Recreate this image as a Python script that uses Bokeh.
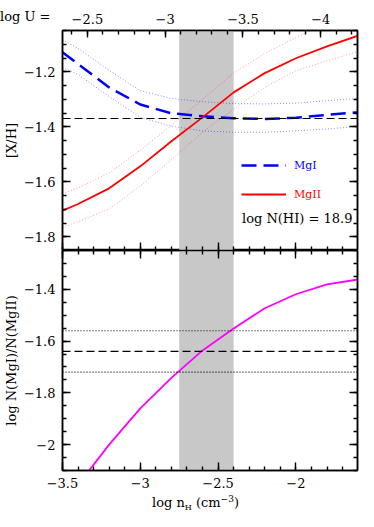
import numpy as np
from bokeh.plotting import figure
from bokeh.models import (Range1d, LinearAxis, SingleIntervalTicker, CustomJSTickFormatter,
                          BoxAnnotation, Span, Label, Legend, LegendItem, Div)
from bokeh.layouts import column
from bokeh.embed import file_html
from bokeh.resources import INLINE

# ---------------- data ----------------
nh_grid = [-3.5, -3.4, -3.2, -3.0, -2.8, -2.6, -2.4, -2.2, -2.0, -1.8, -1.6]
mg1_xh = [-1.129, -1.172, -1.257, -1.319, -1.351, -1.362, -1.369, -1.372, -1.367, -1.357, -1.347]
mg1_xh_hi = [-1.084, -1.115, -1.195, -1.269, -1.297, -1.309, -1.316, -1.317, -1.314, -1.305, -1.297]
mg1_xh_lo = [-1.184, -1.210, -1.290, -1.366, -1.398, -1.415, -1.420, -1.420, -1.415, -1.408, -1.399]
mg2_xh = [-1.705, -1.681, -1.624, -1.544, -1.453, -1.366, -1.275, -1.205, -1.151, -1.108, -1.069]
mg2_xh_hi = [-1.645, -1.622, -1.568, -1.485, -1.395, -1.300, -1.205, -1.134, -1.075, -1.025, -0.985]
mg2_xh_lo = [-1.766, -1.745, -1.699, -1.615, -1.520, -1.420, -1.336, -1.257, -1.196, -1.160, -1.127]

nh_ratio = [-3.4, -3.2, -3.0, -2.8, -2.6, -2.4, -2.2, -2.0, -1.8, -1.6]
ratio = [-2.155, -2.000, -1.860, -1.742, -1.636, -1.551, -1.473, -1.419, -1.381, -1.362]

obs_xh = -1.37
obs_ratio = -1.64
obs_ratio_hi = -1.56
obs_ratio_lo = -1.72
band_lo, band_hi = -2.75, -2.40
logu_offset = -5.84          # log U = logu_offset - log nH
hi_column = 18.9

x_lim = (-3.5, -1.604)
y1_lim = (-1.85, -1.05)
y2_lim = (-2.10, -1.25)

FONT = "DejaVu Serif"

fmt_js = """
const v = Math.round(tick*10)/10;
return (v < 0 ? "\\u2212" : "") + Math.abs(v).toString();
"""


def style_axis(ax, labels, major_in=8, minor_in=4):
    ax.major_tick_in = major_in
    ax.major_tick_out = 0
    ax.minor_tick_in = minor_in
    ax.minor_tick_out = 0
    ax.axis_line_color = "black"
    ax.axis_line_width = 1.5
    ax.major_tick_line_color = "black"
    ax.minor_tick_line_color = "black"
    ax.major_tick_line_width = 1.4
    ax.minor_tick_line_width = 1.4
    ax.axis_label_text_font = FONT
    ax.axis_label_text_font_size = "13px"
    ax.axis_label_text_font_style = "normal"
    ax.axis_label_text_color = "black"
    if labels:
        ax.formatter = CustomJSTickFormatter(code=fmt_js)
        ax.major_label_text_font = FONT
        ax.major_label_text_font_size = "13px"
        ax.major_label_text_color = "black"
        ax.major_label_standoff = 7
    else:
        ax.formatter = CustomJSTickFormatter(code='return "";')
        ax.major_label_text_font_size = "0px"
        ax.major_label_standoff = 0


x_range = Range1d(*x_lim)

# ---------------- top panel ----------------
p1 = figure(frame_width=295, frame_height=220, x_range=x_range, y_range=Range1d(*y1_lim),
            output_backend="svg", toolbar_location=None,
            min_border_left=57, min_border_right=10, min_border_top=30, min_border_bottom=0)
p1.extra_x_ranges = {"logU": Range1d(logu_offset - x_lim[0], logu_offset - x_lim[1])}
p1.grid.visible = False
p1.outline_line_color = "black"
p1.outline_line_width = 1.5

p1.xaxis.ticker = SingleIntervalTicker(interval=0.5, num_minor_ticks=5)
style_axis(p1.xaxis[0], labels=False)
p1.yaxis.ticker = SingleIntervalTicker(interval=0.2, num_minor_ticks=4)
style_axis(p1.yaxis[0], labels=True)
p1.yaxis.axis_label = "[X/H]"
p1.yaxis.axis_label_standoff = 2
r1 = LinearAxis(ticker=SingleIntervalTicker(interval=0.2, num_minor_ticks=4))
style_axis(r1, labels=False)
p1.add_layout(r1, "right")
top = LinearAxis(x_range_name="logU", ticker=SingleIntervalTicker(interval=0.5, num_minor_ticks=5))
style_axis(top, labels=True, major_in=7, minor_in=4)
p1.add_layout(top, "above")

p1.add_layout(BoxAnnotation(left=band_lo, right=band_hi, fill_color="#c8c8c8", fill_alpha=1.0,
                            line_alpha=0, level="underlay"))

p1.line(nh_grid, mg1_xh_hi, line_color="#0000ff", line_alpha=0.45, line_width=1, line_dash="1 2")
p1.line(nh_grid, mg1_xh_lo, line_color="#0000ff", line_alpha=0.45, line_width=1, line_dash="1 2")
p1.line(nh_grid, mg2_xh_hi, line_color="#ff0000", line_alpha=0.4, line_width=1, line_dash="1 2")
p1.line(nh_grid, mg2_xh_lo, line_color="#ff0000", line_alpha=0.4, line_width=1, line_dash="1 2")
p1.add_layout(Span(location=obs_xh, dimension="width", line_color="black", line_width=1.2,
                   line_dash="8 4", level="glyph"))
r_mg1 = p1.line(nh_grid, mg1_xh, line_color="#0000ff", line_width=2.5, line_dash="15 7")
r_mg2 = p1.line(nh_grid, mg2_xh, line_color="#ff0000", line_width=1.8)

for rend, lab, col, yy in [(r_mg1, "MgI", "#0000ff", 78), (r_mg2, "MgII", "#ff0000", 49)]:
    lg = Legend(items=[LegendItem(label=lab, renderers=[rend])], location=(179, yy),
                border_line_color=None, background_fill_alpha=0, padding=0, margin=0,
                glyph_width=45, glyph_height=14, label_height=14, label_standoff=8,
                label_text_font=FONT, label_text_font_size="11px", label_text_color=col)
    p1.add_layout(lg)

p1.add_layout(Label(x=290, y=32, x_units="screen", y_units="screen",
                    text=f"log N(HI) = {hi_column}", text_font=FONT, text_font_size="13px",
                    text_align="right", text_baseline="middle", text_color="black"))

# "log U =" caption sitting on the top tick-label line (overlaid on p1's top border)
TOP_H = 30 + 220
logu_div = Div(text=f'<div style="font-family:\'{FONT}\';font-size:13px;line-height:16px;'
                    f'text-align:right;color:black;white-space:nowrap">log U =</div>',
               width=58, height=16, margin=(-(TOP_H - 9), 0, TOP_H - 9 - 16, 0))

# ---------------- bottom panel ----------------
p2 = figure(frame_width=295, frame_height=220, x_range=x_range, y_range=Range1d(*y2_lim),
            output_backend="svg", toolbar_location=None,
            min_border_left=57, min_border_right=10, min_border_top=0, min_border_bottom=25)
p2.grid.visible = False
p2.outline_line_color = "black"
p2.outline_line_width = 1.5

p2.xaxis.ticker = SingleIntervalTicker(interval=0.5, num_minor_ticks=5)
style_axis(p2.xaxis[0], labels=True)
p2.yaxis.ticker = SingleIntervalTicker(interval=0.2, num_minor_ticks=4)
style_axis(p2.yaxis[0], labels=True)
p2.yaxis.axis_label = "log N(MgI)/N(MgII)"
p2.yaxis.axis_label_standoff = 2
r2 = LinearAxis(ticker=SingleIntervalTicker(interval=0.2, num_minor_ticks=4))
style_axis(r2, labels=False)
p2.add_layout(r2, "right")
t2 = LinearAxis(ticker=SingleIntervalTicker(interval=0.5, num_minor_ticks=5))
style_axis(t2, labels=False)
p2.add_layout(t2, "above")

p2.add_layout(BoxAnnotation(left=band_lo, right=band_hi, fill_color="#c8c8c8", fill_alpha=1.0,
                            line_alpha=0, level="underlay"))
for loc, dash in [(obs_ratio_hi, "1 2"), (obs_ratio, "8 4"), (obs_ratio_lo, "1 2")]:
    p2.add_layout(Span(location=loc, dimension="width", line_color="black", line_width=1.2,
                       line_dash=dash, level="glyph"))
p2.line(nh_ratio, ratio, line_color="#ff00ff", line_width=1.8)

xlabel_div = Div(text=f'<div style="font-family:\'{FONT}\';font-size:13px;line-height:16px;'
                      f'color:black;white-space:nowrap">log n<span style="font-size:8px;'
                      f'position:relative;top:3px">H</span> (cm<span style="font-size:9px;'
                      f'position:relative;top:-5px">\u22123</span>)</div>',
                 width=150, height=20, margin=(0, 0, 0, 152))

layout = column(p1, logu_div, p2, xlabel_div, spacing=0)
open("out.html", "w", encoding="utf-8").write(file_html(layout, INLINE))
